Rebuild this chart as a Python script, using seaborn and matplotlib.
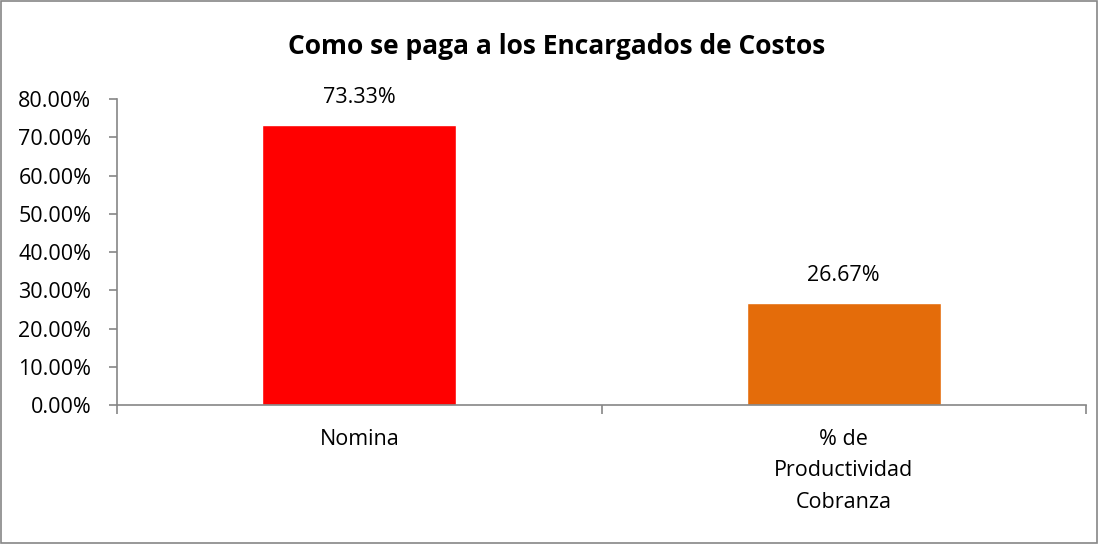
import matplotlib
matplotlib.use("Agg")
import matplotlib.pyplot as plt
import seaborn as sns
import pandas as pd
from matplotlib.patches import Rectangle
from matplotlib.ticker import FixedLocator, FuncFormatter

categorias = ["Nomina", "% de\nProductividad\nCobranza"]
porcentajes = [73.33, 26.67]
colores = ["#FF0000", "#E46C0A"]
etiquetas = ["73.33%", "26.67%"]
titulo = "Como se paga a los Encargados de Costos"

sns.set_style("white")
plt.rcParams["font.family"] = ["Open Sans", "DejaVu Sans"]
plt.rcParams["text.color"] = "black"
plt.rcParams["xtick.color"] = "black"
plt.rcParams["ytick.color"] = "black"

df = pd.DataFrame({"categoria": categorias, "valor": porcentajes})

fig = plt.figure(figsize=(10.98, 5.44), dpi=100)
ax = fig.add_axes([0.1066, 0.2555, 0.8825, 0.5625])

sns.barplot(data=df, x="categoria", y="valor", hue="categoria",
            palette=colores, width=0.4, saturation=1, legend=False, ax=ax)

for i, (v, txt) in enumerate(zip(porcentajes, etiquetas)):
    ax.text(i, v + 7.1, txt, ha="center", va="center", fontsize=15.5, color="black")

ax.set_xlim(-0.5, 1.5)
ax.set_ylim(0, 80)
ax.set_yticks(range(0, 81, 10))
ax.yaxis.set_major_formatter(FuncFormatter(lambda y, _: f"{y:.2f}%"))

# marcas de categoria entre barras, etiquetas centradas
ax.xaxis.set_major_locator(FixedLocator([-0.5, 0.5, 1.5]))
ax.xaxis.set_major_formatter(FuncFormatter(lambda x, _: ""))
ax.set_xticks([0, 1], minor=True)
ax.set_xticklabels(categorias, minor=True, fontsize=15.5, linespacing=1.68, va="top")
ax.tick_params(axis="x", which="minor", bottom=True, length=0, pad=17, labelcolor="black")
ax.tick_params(axis="x", which="major", bottom=True, length=6.5, width=1.2,
               color="#868686", direction="out")
ax.tick_params(axis="y", left=True, length=5.5, width=1.2, color="#868686",
               direction="out", labelsize=15.5, pad=13, labelcolor="black")

for s in ["top", "right"]:
    ax.spines[s].set_visible(False)
for s in ["left", "bottom"]:
    ax.spines[s].set_color("#868686")
    ax.spines[s].set_linewidth(1.2)

ax.set_xlabel("")
ax.set_ylabel("")

fig.text(0.507, 0.914, titulo, ha="center", va="center", fontsize=19,
         fontweight="bold", color="black")

fig.patches.append(Rectangle((0.0008, 0.001), 0.998, 0.997, transform=fig.transFigure,
                             fill=False, edgecolor="#868686", linewidth=1.2))

fig.savefig("out.png", dpi=100)
